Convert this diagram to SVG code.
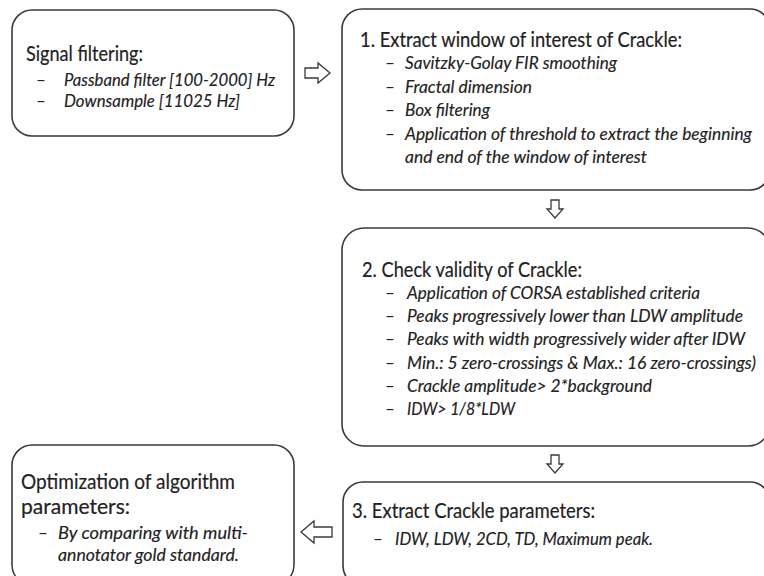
<svg xmlns="http://www.w3.org/2000/svg" width="764" height="576" viewBox="0 0 764 576">
<style>
.box{fill:#fff;stroke:#3a3a3a;stroke-width:1.6}
.arr{fill:#fff;stroke:#3a3a3a;stroke-width:1.3;stroke-linejoin:miter}
.t{font-family:Lato,"Open Sans","Liberation Sans",sans-serif;font-size:21px;fill:#222;stroke:#222;stroke-width:0.2}
.b{font-family:Lato,"Open Sans","Liberation Sans",sans-serif;font-size:17px;font-style:italic;fill:#222;stroke:#222;stroke-width:0.15}
.d{font-family:Lato,"Open Sans","Liberation Sans",sans-serif;font-size:17px;fill:#222}
</style>
<rect width="764" height="576" fill="#fff"/>
<g id="connectors">
<path class="arr" d="M305,68 H318 V63 L330,73 L318,83 V78 H305 Z"/>
<path class="arr" d="M551,200 H559 V209 H563 L555,218 L547,209 H551 Z"/>
<path class="arr" d="M551,455 H559 V464 H563 L555,473 L547,464 H551 Z"/>
<path class="arr" d="M332,527 H314 V521 L301,532 L314,543 V537 H332 Z"/>
</g>
<g id="signal-filtering">
<rect class="box" x="12" y="10" width="282" height="126" rx="20"/>
<text class="t" x="26" y="61" textLength="117" lengthAdjust="spacingAndGlyphs">Signal filtering:</text>
<text class="d" x="36" y="86">–</text>
<text class="b" x="64" y="86" textLength="211" lengthAdjust="spacingAndGlyphs">Passband filter [100-2000] Hz</text>
<text class="d" x="36" y="107">–</text>
<text class="b" x="64" y="107" textLength="176" lengthAdjust="spacingAndGlyphs">Downsample [11025 Hz]</text>
</g>
<g id="extract-window">
<rect class="box" x="342" y="9" width="428" height="181" rx="20"/>
<text class="t" x="360" y="47" textLength="322" lengthAdjust="spacingAndGlyphs">1. Extract window of interest of Crackle:</text>
<text class="d" x="385" y="69">–</text>
<text class="b" x="405" y="69" textLength="212" lengthAdjust="spacingAndGlyphs">Savitzky-Golay FIR smoothing</text>
<text class="d" x="385" y="92.5">–</text>
<text class="b" x="405" y="92.5" textLength="127" lengthAdjust="spacingAndGlyphs">Fractal dimension</text>
<text class="d" x="385" y="116">–</text>
<text class="b" x="405" y="116" textLength="85" lengthAdjust="spacingAndGlyphs">Box filtering</text>
<text class="d" x="385" y="139.5">–</text>
<text class="b" x="405" y="139.5" textLength="347" lengthAdjust="spacingAndGlyphs">Application of threshold to extract the beginning</text>
<text class="b" x="405" y="163" textLength="242" lengthAdjust="spacingAndGlyphs">and end of the window of interest</text>
</g>
<g id="check-validity">
<rect class="box" x="342" y="228" width="428" height="218" rx="22"/>
<text class="t" x="362" y="277" textLength="220" lengthAdjust="spacingAndGlyphs">2. Check validity of Crackle:</text>
<text class="d" x="385" y="299">–</text>
<text class="b" x="407" y="299" textLength="293" lengthAdjust="spacingAndGlyphs">Application of CORSA established criteria</text>
<text class="d" x="385" y="322">–</text>
<text class="b" x="407" y="322" textLength="336" lengthAdjust="spacingAndGlyphs">Peaks progressively lower than LDW amplitude</text>
<text class="d" x="385" y="345">–</text>
<text class="b" x="407" y="345" textLength="338" lengthAdjust="spacingAndGlyphs">Peaks with width progressively wider after IDW</text>
<text class="d" x="385" y="369">–</text>
<text class="b" x="407" y="369" textLength="349" lengthAdjust="spacingAndGlyphs">Min.: 5 zero-crossings &amp; Max.: 16 zero-crossings)</text>
<text class="d" x="385" y="392">–</text>
<text class="b" x="407" y="392" textLength="245" lengthAdjust="spacingAndGlyphs">Crackle amplitude&gt; 2*background</text>
<text class="d" x="385" y="415">–</text>
<text class="b" x="407" y="415" textLength="108" lengthAdjust="spacingAndGlyphs">IDW&gt; 1/8*LDW</text>
</g>
<g id="extract-parameters">
<rect class="box" x="343" y="482" width="427" height="104" rx="20"/>
<text class="t" x="352" y="518" textLength="243" lengthAdjust="spacingAndGlyphs">3. Extract Crackle parameters:</text>
<text class="d" x="373" y="545">–</text>
<text class="b" x="395" y="545" textLength="258" lengthAdjust="spacingAndGlyphs">IDW, LDW, 2CD, TD, Maximum peak.</text>
</g>
<g id="optimization">
<rect class="box" x="12" y="445" width="282" height="140" rx="20"/>
<text class="t" x="21" y="489" textLength="214" lengthAdjust="spacingAndGlyphs" font-size="20">Optimization of algorithm</text>
<text class="t" x="21" y="514" textLength="109" lengthAdjust="spacingAndGlyphs" font-size="20">parameters:</text>
<text class="d" x="38" y="539">–</text>
<text class="b" x="58" y="539" textLength="190" lengthAdjust="spacingAndGlyphs">By comparing with multi-</text>
<text class="b" x="58" y="561" textLength="181" lengthAdjust="spacingAndGlyphs">annotator gold standard.</text>
</g>
</svg>
